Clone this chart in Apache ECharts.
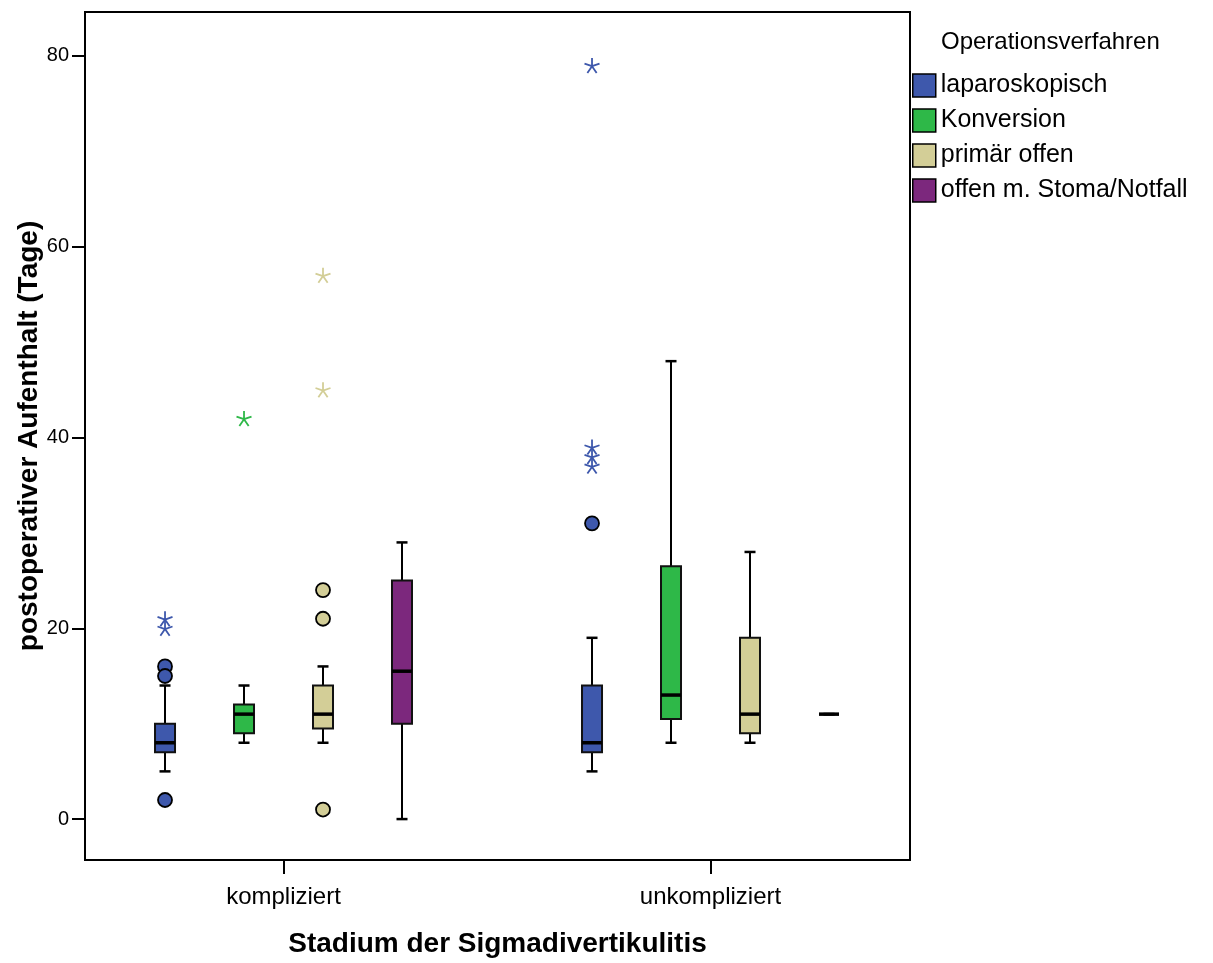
<!DOCTYPE html>
<html>
<head>
<meta charset="utf-8">
<script src="https://cdn.jsdelivr.net/npm/echarts@6/dist/echarts.min.js"></script>
<style>
html,body{margin:0;padding:0;background:#fff;}
#chart{width:1213px;height:963px;}
</style>
</head>
<body>
<div id="chart"></div>
<script>
// ---- data ----
const categories = ['kompliziert', 'unkompliziert'];
const groups = ['laparoskopisch', 'Konversion', 'primär offen', 'offen m. Stoma/Notfall'];
const groupColors = ['#3E58AC', '#2EB848', '#D3CE97', '#7C287D'];
const yTicks = [0, 20, 40, 60, 80];

// box statistics [min, q1, median, q3, max], one row per category
const laparoskopischBox = [[5, 7, 8, 10, 14], [5, 7, 8, 14, 19]];
const konversionBox     = [[8, 9, 11, 12, 14], [8, 10.5, 13, 26.5, 48]];
const primaerOffenBox   = [[8, 9.5, 11, 14, 16], [8, 9, 11, 19, 28]];
const stomaBox          = [[0, 10, 15.5, 25, 29], [11, 11, 11, 11, 11]];

// outliers (circles): [categoryIndex, value]
const laparoskopischOutliers = [[0, 16], [0, 15], [0, 2], [1, 31]];
const konversionOutliers     = [];
const primaerOffenOutliers   = [[0, 24], [0, 21], [0, 1]];
const stomaOutliers          = [];

// extremes (stars): [categoryIndex, value]
const laparoskopischExtremes = [[0, 21], [0, 20], [1, 39], [1, 38], [1, 37], [1, 79]];
const konversionExtremes     = [[0, 42]];
const primaerOffenExtremes   = [[0, 57], [0, 45]];
const stomaExtremes          = [];

const boxes = [laparoskopischBox, konversionBox, primaerOffenBox, stomaBox];
const outliers = [laparoskopischOutliers, konversionOutliers, primaerOffenOutliers, stomaOutliers];
const extremes = [laparoskopischExtremes, konversionExtremes, primaerOffenExtremes, stomaExtremes];

// ---- layout ----
const FONT = '"Liberation Sans", Arial, Helvetica, sans-serif';
const GROUP_STEP = 0.185;
function groupOffset(g) { return (g - (groups.length - 1) / 2) * GROUP_STEP; }
const STAR = 'path://M0,0L0,-10M0,0L9.51,-3.09M0,0L5.88,8.09M0,0L-5.88,8.09M0,0L-9.51,-3.09';

function makeRender(g) {
  return function (params, api) {
    const x = api.value(0) + groupOffset(g);
    const pMin = api.coord([x, api.value(1)]);
    const pQ1 = api.coord([x, api.value(2)]);
    const pMed = api.coord([x, api.value(3)]);
    const pQ3 = api.coord([x, api.value(4)]);
    const pMax = api.coord([x, api.value(5)]);
    const cx = pMin[0];
    const half = 10, cap = 5.5;
    const ls = { stroke: '#000', lineWidth: 2 };
    return {
      type: 'group',
      children: [
        { type: 'line', shape: { x1: cx, y1: pMax[1], x2: cx, y2: pQ3[1] }, style: ls },
        { type: 'line', shape: { x1: cx, y1: pQ1[1], x2: cx, y2: pMin[1] }, style: ls },
        { type: 'line', shape: { x1: cx - cap, y1: pMax[1], x2: cx + cap, y2: pMax[1] }, style: { stroke: '#000', lineWidth: 2.5 } },
        { type: 'line', shape: { x1: cx - cap, y1: pMin[1], x2: cx + cap, y2: pMin[1] }, style: { stroke: '#000', lineWidth: 2.5 } },
        { type: 'rect', shape: { x: cx - half, y: pQ3[1], width: half * 2, height: pQ1[1] - pQ3[1] },
          style: { fill: groupColors[g], stroke: '#111', lineWidth: 2 } },
        { type: 'line', shape: { x1: cx - half, y1: pMed[1], x2: cx + half, y2: pMed[1] }, style: { stroke: '#000', lineWidth: 3.5 } }
      ]
    };
  };
}

const series = [];
groups.forEach(function (name, g) {
  series.push({
    name: name,
    type: 'custom',
    renderItem: makeRender(g),
    itemStyle: { color: groupColors[g] },
    encode: { x: 0, y: [1, 2, 3, 4, 5] },
    data: boxes[g].map(function (b, c) { return [c].concat(b); }),
    clip: false,
    z: 2
  });
});
groups.forEach(function (name, g) {
  series.push({
    name: name + ' (Ausreißer)',
    type: 'scatter',
    symbol: 'circle',
    symbolSize: 14,
    itemStyle: { color: groupColors[g], borderColor: '#000', borderWidth: 1.8, opacity: 1 },
    data: outliers[g].map(function (o) { return [o[0] + groupOffset(g), o[1]]; }),
    z: 3,
    silent: true
  });
  series.push({
    name: name + ' (Extremwerte)',
    type: 'scatter',
    symbol: STAR,
    symbolSize: 15,
    itemStyle: { color: 'rgba(0,0,0,0)', borderColor: groupColors[g], borderWidth: 1.8, opacity: 1 },
    data: extremes[g].map(function (o) { return [o[0] + groupOffset(g), o[1]]; }),
    z: 3,
    silent: true
  });
});

const chart = echarts.init(document.getElementById('chart'), null, { renderer: 'canvas' });
chart.setOption({
  animation: false,
  backgroundColor: '#fff',
  textStyle: { fontFamily: FONT, color: '#000' },
  title: {
    text: 'Operationsverfahren',
    left: 941, top: 30, padding: 0,
    textStyle: { fontFamily: FONT, fontSize: 24, fontWeight: 'normal', color: '#000' }
  },
  legend: {
    data: groups,
    orient: 'vertical',
    left: 912, top: 73, padding: 0,
    itemWidth: 23, itemHeight: 23, itemGap: 10,
    icon: 'rect',
    itemStyle: { borderColor: '#000', borderWidth: 1.5 },
    textStyle: { fontFamily: FONT, fontSize: 25, color: '#000' },
    selectedMode: false
  },
  grid: {
    left: 85, top: 12, right: 303, bottom: 101,
    show: true, borderColor: '#000', borderWidth: 2, backgroundColor: '#fff'
  },
  xAxis: {
    type: 'value',
    min: -0.4649, max: 1.4672,
    name: 'Stadium der Sigmadivertikulitis',
    nameLocation: 'middle', nameGap: 70, nameMoveOverlap: false,
    nameTextStyle: { fontFamily: FONT, fontSize: 28, fontWeight: 'bold', color: '#000' },
    axisLine: { show: true, onZero: false, lineStyle: { color: '#000', width: 2 } },
    axisTick: { show: true, length: 14, lineStyle: { color: '#000', width: 2 }, customValues: [0, 1] },
    axisLabel: {
      customValues: [0, 1], margin: 25,
      fontFamily: FONT, fontSize: 24, color: '#000',
      formatter: function (v) { return categories[Math.round(v)]; }
    },
    splitLine: { show: false }
  },
  yAxis: {
    type: 'value',
    min: -4.29, max: 84.6,
    name: 'postoperativer Aufenthalt (Tage)',
    nameLocation: 'middle', nameGap: 42, nameMoveOverlap: false,
    nameTextStyle: { fontFamily: FONT, fontSize: 28, fontWeight: 'bold', color: '#000' },
    axisLine: { show: true, onZero: false, lineStyle: { color: '#000', width: 2 } },
    axisTick: { show: true, length: 13, lineStyle: { color: '#000', width: 2 }, customValues: yTicks },
    axisLabel: { customValues: yTicks, margin: 16, fontFamily: FONT, fontSize: 20, color: '#000' },
    splitLine: { show: false }
  },
  series: series
});
</script>
</body>
</html>
